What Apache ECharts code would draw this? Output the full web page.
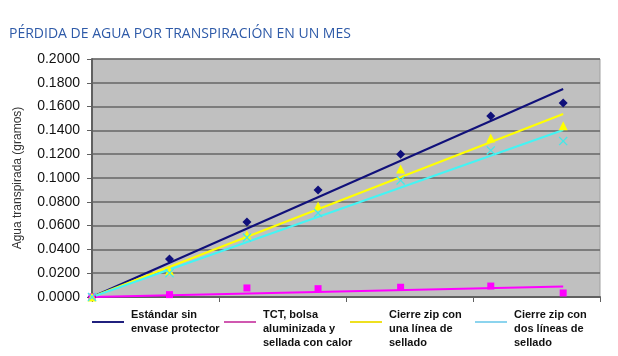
<!DOCTYPE html>
<html>
<head>
<meta charset="utf-8">
<script src="https://cdn.jsdelivr.net/npm/echarts@6/dist/echarts.min.js"></script>
<style>
html,body{margin:0;padding:0;background:#fff;}
#chart{width:618px;height:356px;}
</style>
</head>
<body>
<div id="chart"></div>
<script>
// ---- data ----
const titleText = 'PÉRDIDA DE AGUA POR TRANSPIRACIÓN EN UN MES';
const yAxisName = 'Agua transpirada (gramos)';
const seriesNames = ['Estándar sin\nenvase protector', 'TCT, bolsa\naluminizada y\nsellada con calor', 'Cierre zip con\nuna línea de\nsellado', 'Cierre zip con\ndos líneas de\nsellado'];
const days = [0, 6.1, 12.2, 17.8, 24.3, 31.4, 37.1];
const estandar = [0, 0.032, 0.063, 0.090, 0.120, 0.152, 0.163];
const tct = [0, 0.002, 0.0076, 0.007, 0.0082, 0.0092, 0.0034];
const zipUna = [0, 0.022, 0.052, 0.0765, 0.1076, 0.1336, 0.144];
const zipDos = [0, 0.020, 0.050, 0.0706, 0.098, 0.1232, 0.131];
// trendline (linear, through origin) end values at the last day
const trendStart = [0, 0, 0, 0];
const trendEnd = [0.1748, 0.0088, 0.1538, 0.1403];

// ---- styles ----
const lineColors = ['#10107a', '#ff00ff', '#ffff00', '#44f4f4'];
const markColors = ['#10107a', '#ff00ff', '#ffff00', '#44e8e8'];
const legendColors = ['#20207e', '#d058b0', '#eee020', '#8cd4ee'];
const symbols = ['diamond', 'rect', 'triangle', 'path://M0,1L1,0L5,4L9,0L10,1L6,5L10,9L9,10L5,6L1,10L0,9L4,5Z'];
const symbolSizes = [9, 7, 9, 9];
const values = [estandar, tct, zipUna, zipDos];

const series = [];
values.forEach((vals, i) => {
  series.push({
    name: seriesNames[i],
    type: 'line',
    data: [[days[0], trendStart[i]], [days[days.length - 1], trendEnd[i]]],
    showSymbol: false,
    symbol: 'none',
    lineStyle: {color: lineColors[i], width: 2},
    itemStyle: {color: legendColors[i]},
    z: 2,
    silent: true
  });
});
values.forEach((vals, i) => {
  series.push({
    name: seriesNames[i],
    type: 'scatter',
    data: days.map((d, k) => [d, vals[k]]),
    symbol: symbols[i],
    symbolSize: symbolSizes[i],
    itemStyle: {color: markColors[i], opacity: 1},
    z: 3,
    silent: true
  });
});

const legendLeft = [92, 224, 350, 475];
const legends = seriesNames.map((n, i) => {
  const lines = n.split('\n');
  const txt = lines.length === 3 ? '\n' + n : n;
  return {
    left: legendLeft[i],
    top: lines.length === 3 ? 294 : 308,
    padding: 0,
    orient: 'horizontal',
    icon: 'rect',
    itemWidth: 32,
    itemHeight: 2,
    itemGap: 0,
    selectedMode: false,
    data: [{name: n, itemStyle: {color: legendColors[i]}}],
    formatter: () => txt,
    textStyle: {fontFamily: 'Liberation Sans, Arial', fontWeight: 'bold', fontSize: 11, color: '#111', lineHeight: 14, padding: [0, 0, 0, 2]}
  };
});

const chart = echarts.init(document.getElementById('chart'), null, {renderer: 'canvas'});
chart.setOption({
  animation: false,
  backgroundColor: '#fff',
  title: {
    text: titleText,
    left: 4,
    top: 22,
    textStyle: {fontFamily: 'Open Sans, Noto Sans, sans-serif', fontWeight: 'normal', fontSize: 14, color: '#2e5aa8'}
  },
  legend: legends,
  grid: {
    left: 92, right: 18, top: 59, bottom: 59,
    show: true,
    backgroundColor: '#c0c0c0',
    borderColor: '#a0a0a0',
    borderWidth: 1
  },
  xAxis: {
    type: 'value',
    min: 0, max: 40, interval: 10,
    axisLine: {show: true, onZero: false, lineStyle: {color: '#606060', width: 2}},
    axisTick: {show: true, inside: false, length: 5, lineStyle: {color: '#606060', width: 1}},
    axisLabel: {show: false},
    splitLine: {show: false}
  },
  yAxis: {
    type: 'value',
    min: 0, max: 0.2, interval: 0.02,
    name: yAxisName,
    nameLocation: 'middle',
    nameGap: 68,
    nameRotate: 90,
    nameTextStyle: {fontFamily: 'Liberation Sans, Arial', fontSize: 12, color: '#333'},
    axisLine: {show: true, lineStyle: {color: '#606060', width: 2}},
    axisTick: {show: true, inside: false, length: 5, lineStyle: {color: '#606060', width: 1}},
    axisLabel: {
      fontFamily: 'Liberation Sans, Arial', fontSize: 14, color: '#111', margin: 12,
      formatter: v => v.toFixed(4)
    },
    splitLine: {show: true, lineStyle: {color: '#666', width: 1.5}}
  },
  series: series
});
</script>
</body>
</html>
